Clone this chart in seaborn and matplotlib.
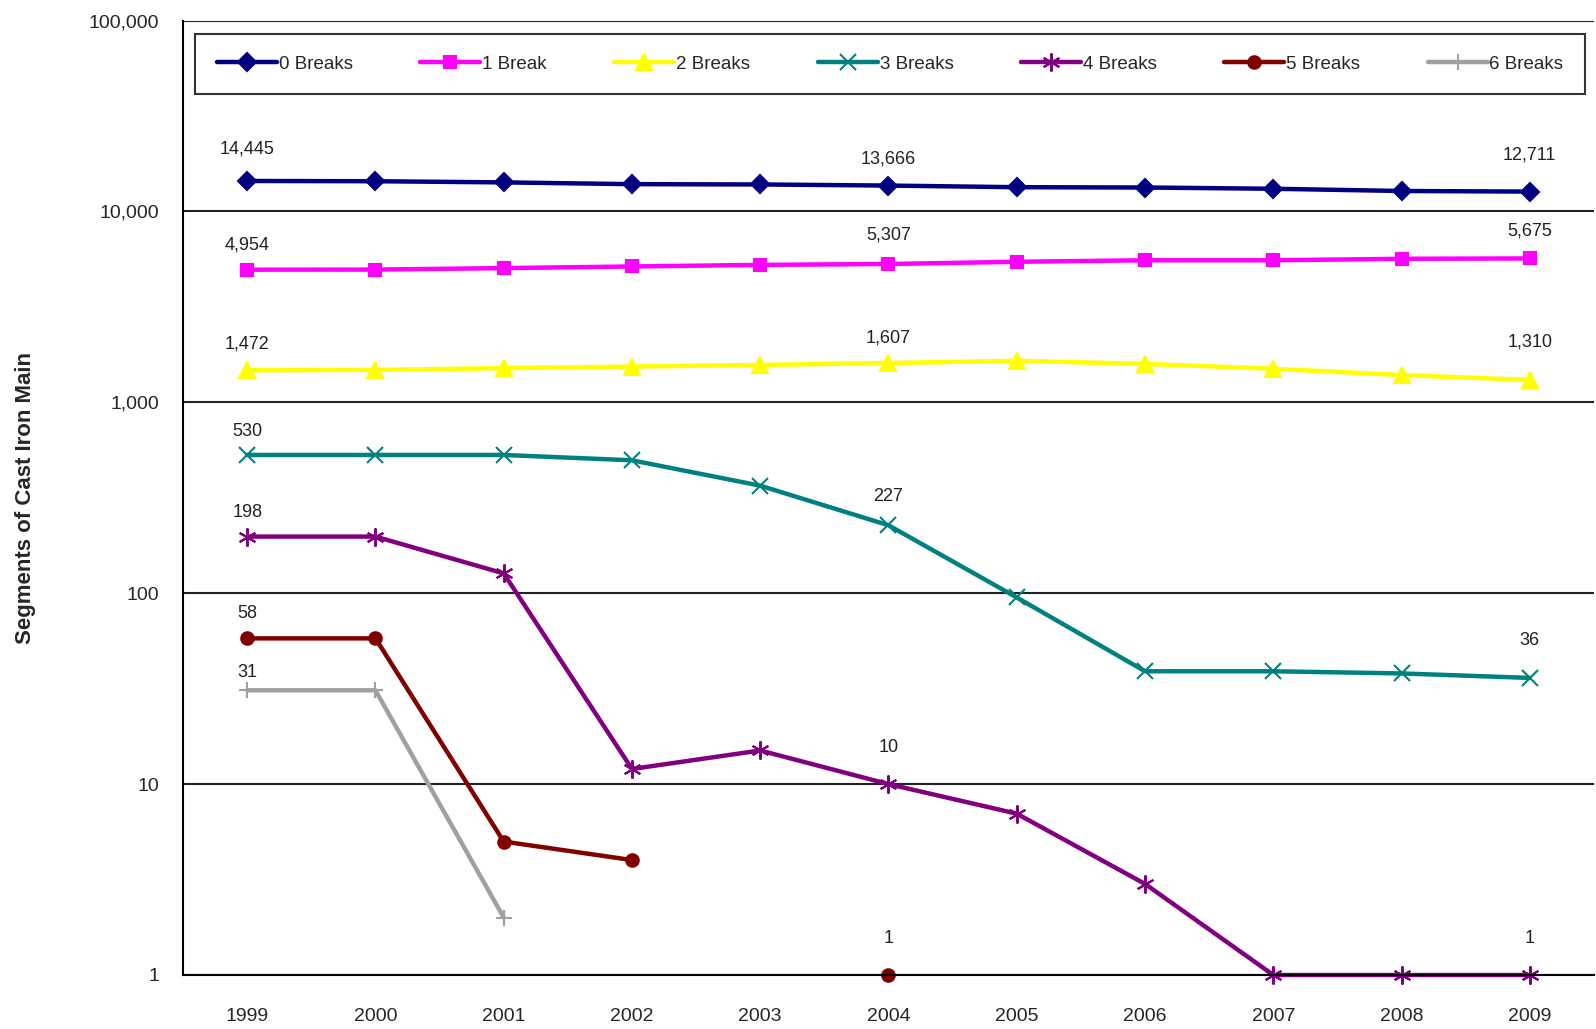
import numpy as np
import pandas as pd
import matplotlib
matplotlib.use("Agg")
import matplotlib.pyplot as plt
from matplotlib.lines import Line2D
import seaborn as sns

years = [1999, 2000, 2001, 2002, 2003, 2004, 2005, 2006, 2007, 2008, 2009]
nan = np.nan
breaks0 = [14445, 14400, 14200, 13900, 13850, 13666, 13400, 13350, 13150, 12800, 12711]
breaks1 = [4954, 4960, 5050, 5150, 5250, 5307, 5450, 5550, 5550, 5650, 5675]
breaks2 = [1472, 1480, 1510, 1540, 1570, 1607, 1650, 1590, 1500, 1390, 1310]
breaks3 = [530, 530, 530, 497, 366, 227, 95, 39, 39, 38, 36]
breaks4 = [198, 198, 127, 12, 15, 10, 7, 3, 1, 1, 1]
breaks5 = [58, 58, 5, 4, nan, 1, nan, nan, nan, nan, nan]
breaks6 = [31, 31, 2, nan, nan, nan, nan, nan, nan, nan, nan]
series_names = ["0 Breaks", "1 Break", "2 Breaks", "3 Breaks", "4 Breaks", "5 Breaks", "6 Breaks"]
label_years = [1999, 2004, 2009]
ytick_vals = [1, 10, 100, 1000, 10000, 100000]
ytick_labels = ["1", "10", "100", "1,000", "10,000", "100,000"]

all_series = [breaks0, breaks1, breaks2, breaks3, breaks4, breaks5, breaks6]
colors = ["#000080", "#FF00FF", "#FFFF00", "#008080", "#800080", "#800000", "#A0A0A0"]
markers = ["D", "s", "^", "x", (6, 2, 0), "o", "+"]
msizes = [9, 9, 11, 11, 13, 9, 12]
# label offsets (points above the data point, to label centre)
label_off = {
    ("0 Breaks", 1999): 23, ("0 Breaks", 2004): 19, ("0 Breaks", 2009): 26,
    ("1 Break", 1999): 18, ("1 Break", 2004): 21, ("1 Break", 2009): 20,
    ("2 Breaks", 1999): 19, ("2 Breaks", 2004): 18, ("2 Breaks", 2009): 27,
    ("3 Breaks", 1999): 17, ("3 Breaks", 2004): 21, ("3 Breaks", 2009): 27,
    ("4 Breaks", 1999): 17, ("4 Breaks", 2004): 26, ("4 Breaks", 2009): 26,
    ("5 Breaks", 1999): 18, ("5 Breaks", 2004): 26,
    ("6 Breaks", 1999): 13,
}

sns.set_style("white")
plt.rcParams["font.family"] = ["Liberation Sans", "DejaVu Sans"]

fig = plt.figure(figsize=(15.96, 10.29), dpi=100)
ax = fig.add_axes([0.1147, 0.0525, 0.884, 0.9275])

rows = []
for name, vals in zip(series_names, all_series):
    for i, (yr, v) in enumerate(zip(years, vals)):
        rows.append({"series": name, "idx": i, "year": yr, "value": v})
df = pd.DataFrame(rows)

handles = []
for name, col, mk, ms in zip(series_names, colors, markers, msizes):
    sub = df[df["series"] == name].reset_index(drop=True)
    valid = sub["value"].notna().to_numpy()
    seg_id = np.cumsum(np.concatenate([[1], (valid[1:] != valid[:-1]).astype(int)]))
    for sid in np.unique(seg_id[valid]):
        seg = sub[(seg_id == sid) & valid]
        sns.lineplot(data=seg, x="idx", y="value", ax=ax, color=col, lw=3.2,
                     marker=mk, markersize=ms, markeredgecolor=col,
                     markeredgewidth=1.5, estimator=None, sort=False, clip_on=False)
    handles.append(Line2D([0], [0], color=col, lw=3.2, marker=mk, markersize=ms,
                          markeredgecolor=col, markeredgewidth=1.5))
    for yr in label_years:
        i = years.index(yr)
        v = sub.loc[i, "value"]
        if not np.isnan(v):
            ax.annotate(f"{int(v):,}", (i, v), xytext=(0, label_off[(name, yr)]),
                        textcoords="offset points", ha="center", va="center",
                        fontsize=13, color="#222222")

ax.set_yscale("log")
ax.set_ylim(1, 100000)
ax.set_xlim(-0.5, 10.5)
ax.set_yticks(ytick_vals)
ax.set_yticklabels(ytick_labels, fontsize=14)
ax.yaxis.set_minor_locator(matplotlib.ticker.NullLocator())
ax.set_xticks(range(len(years)))
ax.set_xticklabels([str(y) for y in years], fontsize=14)
ax.set_xticks(np.arange(-0.5, 10.6, 1), minor=True)
ax.tick_params(axis="x", which="major", length=0, pad=24)
ax.tick_params(axis="x", which="minor", length=7, width=1.5, color="black", direction="out")
ax.tick_params(axis="y", which="major", length=7, width=1.5, color="black", direction="out", pad=10)
for yv in ytick_vals:
    ax.axhline(yv, color="#222222", lw=1.5, zorder=0)
ax.set_xlabel("")
ax.set_ylabel("Segments of Cast Iron Main", fontsize=16, fontweight="bold", labelpad=38)
for s in ["right", "top"]:
    ax.spines[s].set_visible(False)
for s in ["left", "bottom"]:
    ax.spines[s].set_color("black")
    ax.spines[s].set_linewidth(1.5)

leg = ax.legend(handles, series_names, loc="upper center", bbox_to_anchor=(0.5012, 0.986),
                ncol=7, fontsize=13.5, frameon=True, fancybox=False, handlelength=3.2,
                handletextpad=0.1, columnspacing=3.6, borderpad=1.15, borderaxespad=0)
leg.get_frame().set_edgecolor("black")
leg.get_frame().set_linewidth(1.5)

fig.savefig("out.png", dpi=100)
